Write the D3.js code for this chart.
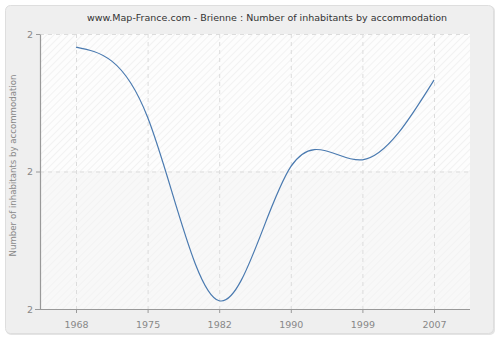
<!DOCTYPE html>
<html>
<head>
<meta charset="utf-8">
<script src="https://cdn.jsdelivr.net/npm/d3@7"></script>
<style>
  body { margin: 0; background: #fff; }
  text { font-family: "DejaVu Sans", sans-serif; }
</style>
</head>
<body>
<div id="chart"></div>
<script>
// data
const years = ['1968', '1975', '1982', '1990', '1999', '2007'];
const values = [2.181, 2.079, 1.812, 2.007, 2.017, 2.133];
const yTicks = [1.8, 2.0, 2.2];

const W = 500, H = 340;
const margin = {top: 34, right: 30, bottom: 31, left: 40};
const gw = W - margin.left - margin.right;
const gh = H - margin.top - margin.bottom;

const svg = d3.select('#chart')
    .append('svg')
    .attr('width', W)
    .attr('height', H);

// hatch pattern for plot background
const defs = svg.append('defs');
const pat = defs.append('pattern')
    .attr('id', 'hatch')
    .attr('patternUnits', 'userSpaceOnUse')
    .attr('width', 5).attr('height', 5)
    .attr('patternTransform', 'rotate(45)');
pat.append('rect').attr('width', 5).attr('height', 5).attr('fill', '#fdfdfd');
pat.append('line').attr('x1', 0).attr('y1', 0).attr('x2', 0).attr('y2', 5)
    .attr('stroke', '#ebebeb').attr('stroke-width', 1.2);

const pat2 = defs.append('pattern')
    .attr('id', 'hatch2')
    .attr('patternUnits', 'userSpaceOnUse')
    .attr('width', 5).attr('height', 5)
    .attr('patternTransform', 'rotate(45)');
pat2.append('rect').attr('width', 5).attr('height', 5).attr('fill', '#f8f8f8');
pat2.append('line').attr('x1', 0).attr('y1', 0).attr('x2', 0).attr('y2', 5)
    .attr('stroke', '#f0f0f0').attr('stroke-width', 1.2);

// outer panel
svg.append('rect')
    .attr('x', 6).attr('y', 6)
    .attr('width', W - 11).attr('height', H - 11)
    .attr('rx', 5)
    .attr('fill', '#e4e4e4');
svg.append('rect')
    .attr('x', 5.5).attr('y', 5.5)
    .attr('width', W - 12).attr('height', H - 12)
    .attr('rx', 5)
    .attr('fill', '#efefef')
    .attr('stroke', '#dedede');

const graph = svg.append('g')
    .attr('transform', `translate(${margin.left}, ${margin.top})`);

const x = d3.scalePoint()
    .domain(years)
    .range([36, 394]);

const y = d3.scaleLinear()
    .domain([1.8, 2.2])
    .range([gh, 0]);

// plot background, two bands
graph.append('rect')
    .attr('width', gw).attr('height', y(2.0))
    .attr('fill', 'url(#hatch)');
graph.append('rect')
    .attr('y', y(2.0))
    .attr('width', gw).attr('height', gh - y(2.0))
    .attr('fill', 'url(#hatch2)');

// grid lines
graph.selectAll('.vgrid')
    .data(years)
    .enter()
    .append('line')
    .attr('x1', d => x(d) + 0.5).attr('x2', d => x(d) + 0.5)
    .attr('y1', 0).attr('y2', gh)
    .attr('stroke', '#dcdcdc')
    .attr('stroke-dasharray', '4,4');
graph.selectAll('.hgrid')
    .data(yTicks.slice(1))
    .enter()
    .append('line')
    .attr('x1', 0).attr('x2', gw)
    .attr('y1', d => y(d) + 0.5).attr('y2', d => y(d) + 0.5)
    .attr('stroke', '#dcdcdc')
    .attr('stroke-dasharray', '4,4');

// the line
const line = d3.line()
    .x((d, i) => x(years[i]))
    .y(d => y(d))
    .curve(d3.curveNatural);

graph.append('path')
    .datum(values)
    .attr('d', line)
    .attr('fill', 'none')
    .attr('stroke', '#4a7ab0')
    .attr('stroke-width', 1.2);

// axes
const xAxis = d3.axisBottom(x).tickSize(4).tickSizeOuter(0);
const yAxis = d3.axisLeft(y).tickValues(yTicks).tickSize(4).tickSizeOuter(0)
    .tickFormat(d3.format('.0f'));

const xAxisGroup = graph.append('g')
    .attr('transform', `translate(0, ${gh})`)
    .call(xAxis);
const yAxisGroup = graph.append('g')
    .call(yAxis);

xAxisGroup.select('.domain').attr('d', `M-5,0.5H${gw}`);
[xAxisGroup, yAxisGroup].forEach(g => {
    g.select('.domain').attr('stroke', '#999').attr('stroke-width', 1.2);
    g.selectAll('.tick line').attr('stroke', '#999');
    g.selectAll('text')
        .attr('fill', '#888')
        .style('font-size', '9.5px')
        .style('font-family', 'DejaVu Sans, sans-serif');
});
xAxisGroup.selectAll('text').attr('dy', '1.25em');

// title
svg.append('text')
    .attr('x', 267)
    .attr('y', 21)
    .attr('fill', '#333')
    .style('font-size', '9.5px')
    .style('text-anchor', 'middle')
    .text('www.Map-France.com - Brienne : Number of inhabitants by accommodation');

// y axis label
svg.append('text')
    .attr('transform', `translate(16, ${margin.top + gh / 2 - 6}) rotate(-90)`)
    .attr('fill', '#888')
    .style('font-size', '8.6px')
    .style('text-anchor', 'middle')
    .text('Number of inhabitants by accommodation');
</script>
</body>
</html>
